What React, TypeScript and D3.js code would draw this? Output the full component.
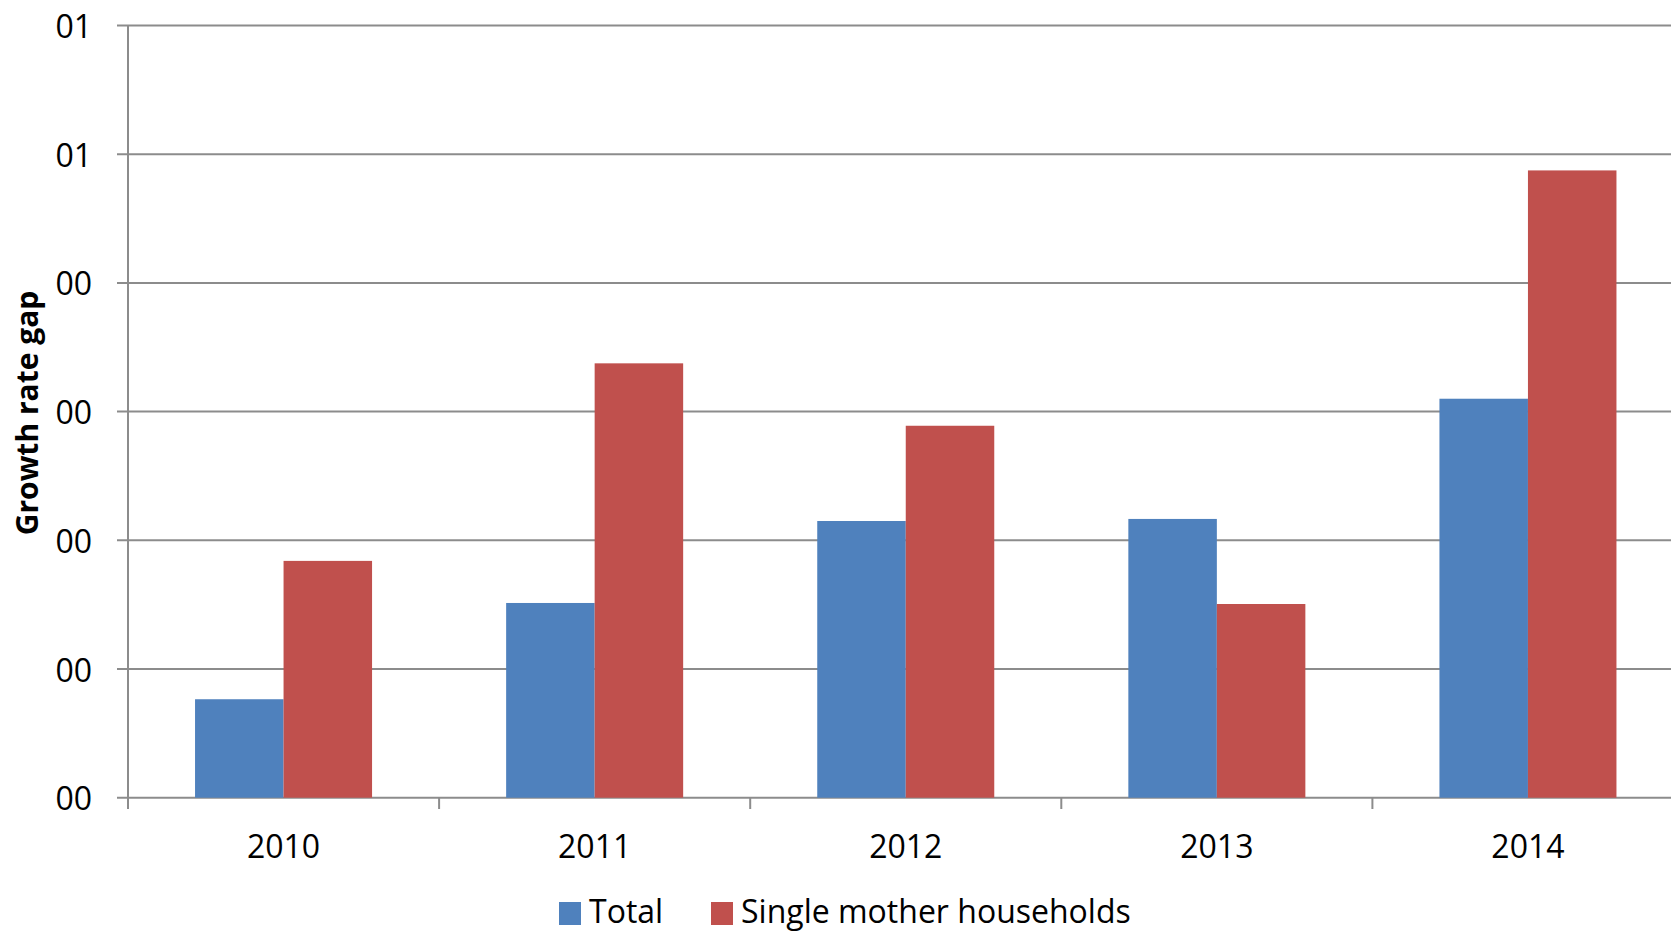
import React from "react";
import * as d3 from "d3";

// Chart data
const years = ["2010", "2011", "2012", "2013", "2014"];
const seriesNames = ["Total", "Single mother households"];
const totalValues = [0.765, 1.513, 2.15, 2.166, 3.1];
const singleMotherValues = [1.84, 3.375, 2.89, 1.505, 4.874];
const yTickValues = [0, 1, 2, 3, 4, 5, 6];
const yTickLabels = ["00", "00", "00", "00", "00", "01", "01"];
const seriesColors = ["#4F81BD", "#C0504D"];

const W = 1671;
const H = 931;
const FONT = "'Open Sans', sans-serif";

export default function App() {
  const x0 = 128;
  const step = 311.1;
  const x = d3
    .scaleBand<string>()
    .domain(years)
    .range([x0, x0 + step * years.length])
    .paddingInner(0.431)
    .paddingOuter(0.2155);
  const xs = d3.scaleBand<string>().domain(seriesNames).range([0, x.bandwidth()]);
  const y = d3.scaleLinear().domain([0, 6]).range([797.7, 25.5]);

  const series = [totalValues, singleMotherValues];
  const gridColor = "#8c8c8c";
  const axisBottom = y(0);
  const catBoundaries = years.map((_, i) => x0 + step * i);

  return (
    <svg
      width={W}
      height={H}
      style={{ position: "absolute", left: 0, top: 0, background: "#fff" }}
    >
      {/* horizontal gridlines with outward ticks */}
      {yTickValues.map((v) => (
        <line
          key={"g" + v}
          x1={117}
          x2={W}
          y1={y(v)}
          y2={y(v)}
          stroke={gridColor}
          strokeWidth={2}
        />
      ))}
      {/* bars */}
      {series.map((vals, si) =>
        vals.map((v, i) => (
          <rect
            key={si + "-" + i}
            x={(x(years[i]) as number) + (xs(seriesNames[si]) as number)}
            y={y(v)}
            width={xs.bandwidth()}
            height={axisBottom - y(v)}
            fill={seriesColors[si]}
          />
        ))
      )}
      {/* value axis line */}
      <line x1={x0} x2={x0} y1={y(6)} y2={809} stroke={gridColor} strokeWidth={2} />
      {/* category axis ticks */}
      {catBoundaries.map((cx, i) => (
        <line
          key={"t" + i}
          x1={cx}
          x2={cx}
          y1={axisBottom}
          y2={809}
          stroke={gridColor}
          strokeWidth={2}
        />
      ))}
      {/* y tick labels */}
      {yTickValues.map((v, i) => (
        <text
          key={"yl" + v}
          x={92}
          y={y(v)}
          textAnchor="end"
          dominantBaseline="central"
          fontFamily={FONT}
          fontSize={32}
          fill="#000"
        >
          {yTickLabels[i]}
        </text>
      ))}
      {/* x tick labels */}
      {years.map((yr) => (
        <text
          key={"xl" + yr}
          x={(x(yr) as number) + x.bandwidth() / 2}
          y={858}
          textAnchor="middle"
          fontFamily={FONT}
          fontSize={32}
          fill="#000"
        >
          {yr}
        </text>
      ))}
      {/* y axis title */}
      <text
        transform="translate(38,413) rotate(-90)"
        textAnchor="middle"
        fontFamily={FONT}
        fontWeight="bold"
        fontSize={30}
        fill="#000"
      >
        Growth rate gap
      </text>
      {/* legend */}
      <g>
        <rect x={559} y={902} width={22} height={23} fill={seriesColors[0]} />
        <text x={589} y={923} fontFamily={FONT} fontSize={32} fill="#000">
          {seriesNames[0]}
        </text>
        <rect x={711} y={902} width={22} height={23} fill={seriesColors[1]} />
        <text x={741} y={923} fontFamily={FONT} fontSize={32} fill="#000">
          {seriesNames[1]}
        </text>
      </g>
    </svg>
  );
}
